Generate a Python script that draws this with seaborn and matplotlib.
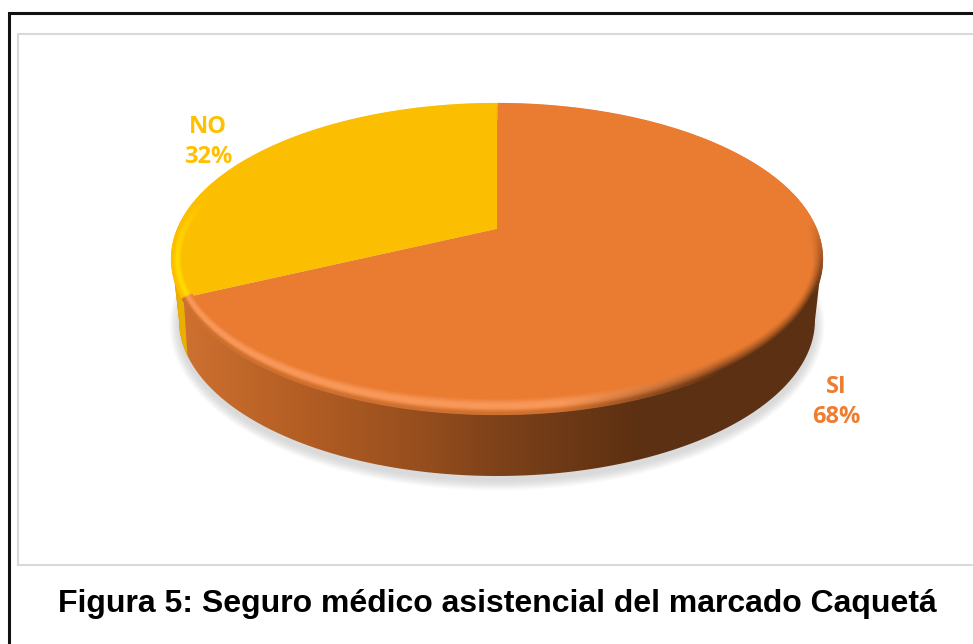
import numpy as np
import matplotlib
matplotlib.use("Agg")
import matplotlib.pyplot as plt
import seaborn as sns
from matplotlib.collections import LineCollection
from matplotlib.path import Path
from matplotlib.patches import PathPatch

sns.set_theme(style="white")

categories = ["SI", "NO"]
values = [68, 32]
title = "Figura 5: Seguro médico asistencial del marcado Caquetá"

palette = sns.color_palette(["#ED7D31", "#FFC000"])
# the face colours in the picture are a bit different from the label ones
si_face = np.array([234, 124, 50]) / 255
no_face = np.array([252, 190, 0]) / 255

W, H = 973, 644
fig = plt.figure(figsize=(W / 100, H / 100), dpi=100)
ax = fig.add_axes([0, 0, 1, 1])
ax.set_xlim(0, W)
ax.set_ylim(H, 0)
ax.axis("off")

# frames
ax.plot([8.5, 8.5, W], [H, 13, 13], color="#111111", lw=2.2, solid_joinstyle="miter")
ax.plot([W, 18, 18, W], [34, 34, 565, 565], color="#d9d9d9", lw=1.5, solid_joinstyle="miter")

# geometry of the disc
cx, cy, a, b = 497, 259, 325, 155
depth_cy, depth_a, depth_b = 320, 318, 156
c = 0.195  # perspective shift of the pie centre


def to_screen(theta):
    # theta clockwise from the top, goes through a homography of the unit disc
    u, v = np.sin(theta), np.cos(theta)
    d = 1 + c * v
    x = u * np.sqrt(1 - c ** 2) / d
    y = (v + c) / d
    return cx + a * x, cy - b * y


fracs = np.array(values) / sum(values)
edges = np.concatenate([[0], np.cumsum(fracs)]) * 2 * np.pi
split_x, split_y = to_screen(edges[1])
split_ang = np.arctan2(split_x - cx, -(split_y - cy) * a / b) % (2 * np.pi)

# soft shadow under the pie
ts = np.linspace(0, 2 * np.pi, 300)
for g in np.linspace(16, 0, 14):
    ax.fill(cx + (depth_a + g * 0.6) * np.cos(ts), depth_cy + 5 + (depth_b + g * 0.6) * np.sin(ts),
            color="#666666", alpha=0.017, lw=0, zorder=1)

# side wall with a gradient
t_low = np.linspace(np.pi, 0, 200)
wx = np.concatenate([cx + a * np.cos(t_low), (cx + depth_a * np.cos(t_low))[::-1]])
wy = np.concatenate([cy + b * np.sin(t_low), (depth_cy + depth_b * np.sin(t_low))[::-1]])
wall = PathPatch(Path(np.column_stack([wx, wy])), transform=ax.transData, fc="none", ec="none")
ax.add_patch(wall)
xs = np.arange(W)
stops_x = [0, 186, 300, 420, 500, 640, W]
stops = np.array([[205, 112, 48], [205, 112, 48], [180, 94, 36], [150, 78, 30],
                  [125, 65, 25], [92, 48, 18], [92, 48, 18]]) / 255
grad = np.stack([np.interp(xs, stops_x, stops[:, i]) for i in range(3)], axis=-1)[None, :, :]
im = ax.imshow(grad, extent=[0, W, cy + 300, 0], aspect="auto", zorder=2)
im.set_clip_path(wall)
ax.set_xlim(0, W)
ax.set_ylim(H, 0)

# small yellow piece of the wall on the left
wall_yellow = PathPatch(Path(np.column_stack([wx, wy])), transform=ax.transData, fc="none", ec="none")
ax.add_patch(wall_yellow)
yel = ax.fill([170, split_x + 1, split_x + 5, 170], [split_y - 20, split_y - 3, 356, 356],
              color="#e9b000", lw=0, zorder=3)[0]
yel.set_clip_path(wall_yellow)

# wedges, one polygon per value
for i, face in enumerate([si_face, no_face]):
    th = np.linspace(edges[i], edges[i + 1], 300)
    px, py = to_screen(th)
    ax.fill(np.r_[cx, px], np.r_[cy - b * c, py], color=face, lw=0, zorder=4)


# bevel on the rim
def mix(p, q, w):
    return p + (q - p) * w


hi_col = np.array([248, 152, 90]) / 255
edge_col = np.array([205, 112, 48]) / 255
brown = np.array([92, 48, 18]) / 255
hi_yel = np.array([255, 218, 0]) / 255

n = 700
ang = np.linspace(0, 2 * np.pi, n + 1)
rings = np.linspace(0, 1, 18)
for t in rings:
    xr = cx + (a - 9 * (1 - t)) * np.sin(ang)
    yr = cy - (b - 15 * (1 - t)) * np.cos(ang)
    segs = np.stack([np.column_stack([xr[:-1], yr[:-1]]), np.column_stack([xr[1:], yr[1:]])], axis=1)
    mid = (ang[:-1] + ang[1:]) / 2
    shape = np.sin(np.pi * t) ** 1.2
    cols = []
    for m in mid:
        if m > split_ang:
            # yellow side
            lo = np.clip((0.45 - np.cos(m)) / 0.4, 0, 1)
            rim = mix(no_face, hi_yel, shape * lo)
        else:
            lo = np.clip((0.25 - np.cos(m)) / 0.5, 0, 1)
            dk = np.clip((np.sin(m) - 0.2) / 0.5, 0, 1)
            light = mix(si_face, hi_col, shape)
            if t > 0.7:
                light = mix(light, edge_col, (t - 0.7) / 0.3)
            darker = mix(si_face, brown, t ** 1.4)
            rim = mix(si_face, mix(light, darker, dk), lo)
        cols.append(rim)
    ax.add_collection(LineCollection(segs, colors=cols, linewidths=1.6, zorder=5, capstyle="round"))

# labels
label_font = "Open Sans"
ax.text(208, 142, categories[1] + "\n" + f"{values[1]}%", color=palette[1], fontsize=17,
        fontweight="bold", family=label_font, ha="center", va="center", linespacing=1.37, zorder=6)
ax.text(836, 402, categories[0] + "\n" + f"{values[0]}%", color=palette[0], fontsize=17,
        fontweight="bold", family=label_font, ha="center", va="center", linespacing=1.37, zorder=6)

ax.text(497, 604, title, color="black", fontsize=23, fontweight="bold",
        family="Liberation Sans", ha="center", va="center", zorder=6)

fig.savefig("out.png", dpi=100, facecolor="white")
